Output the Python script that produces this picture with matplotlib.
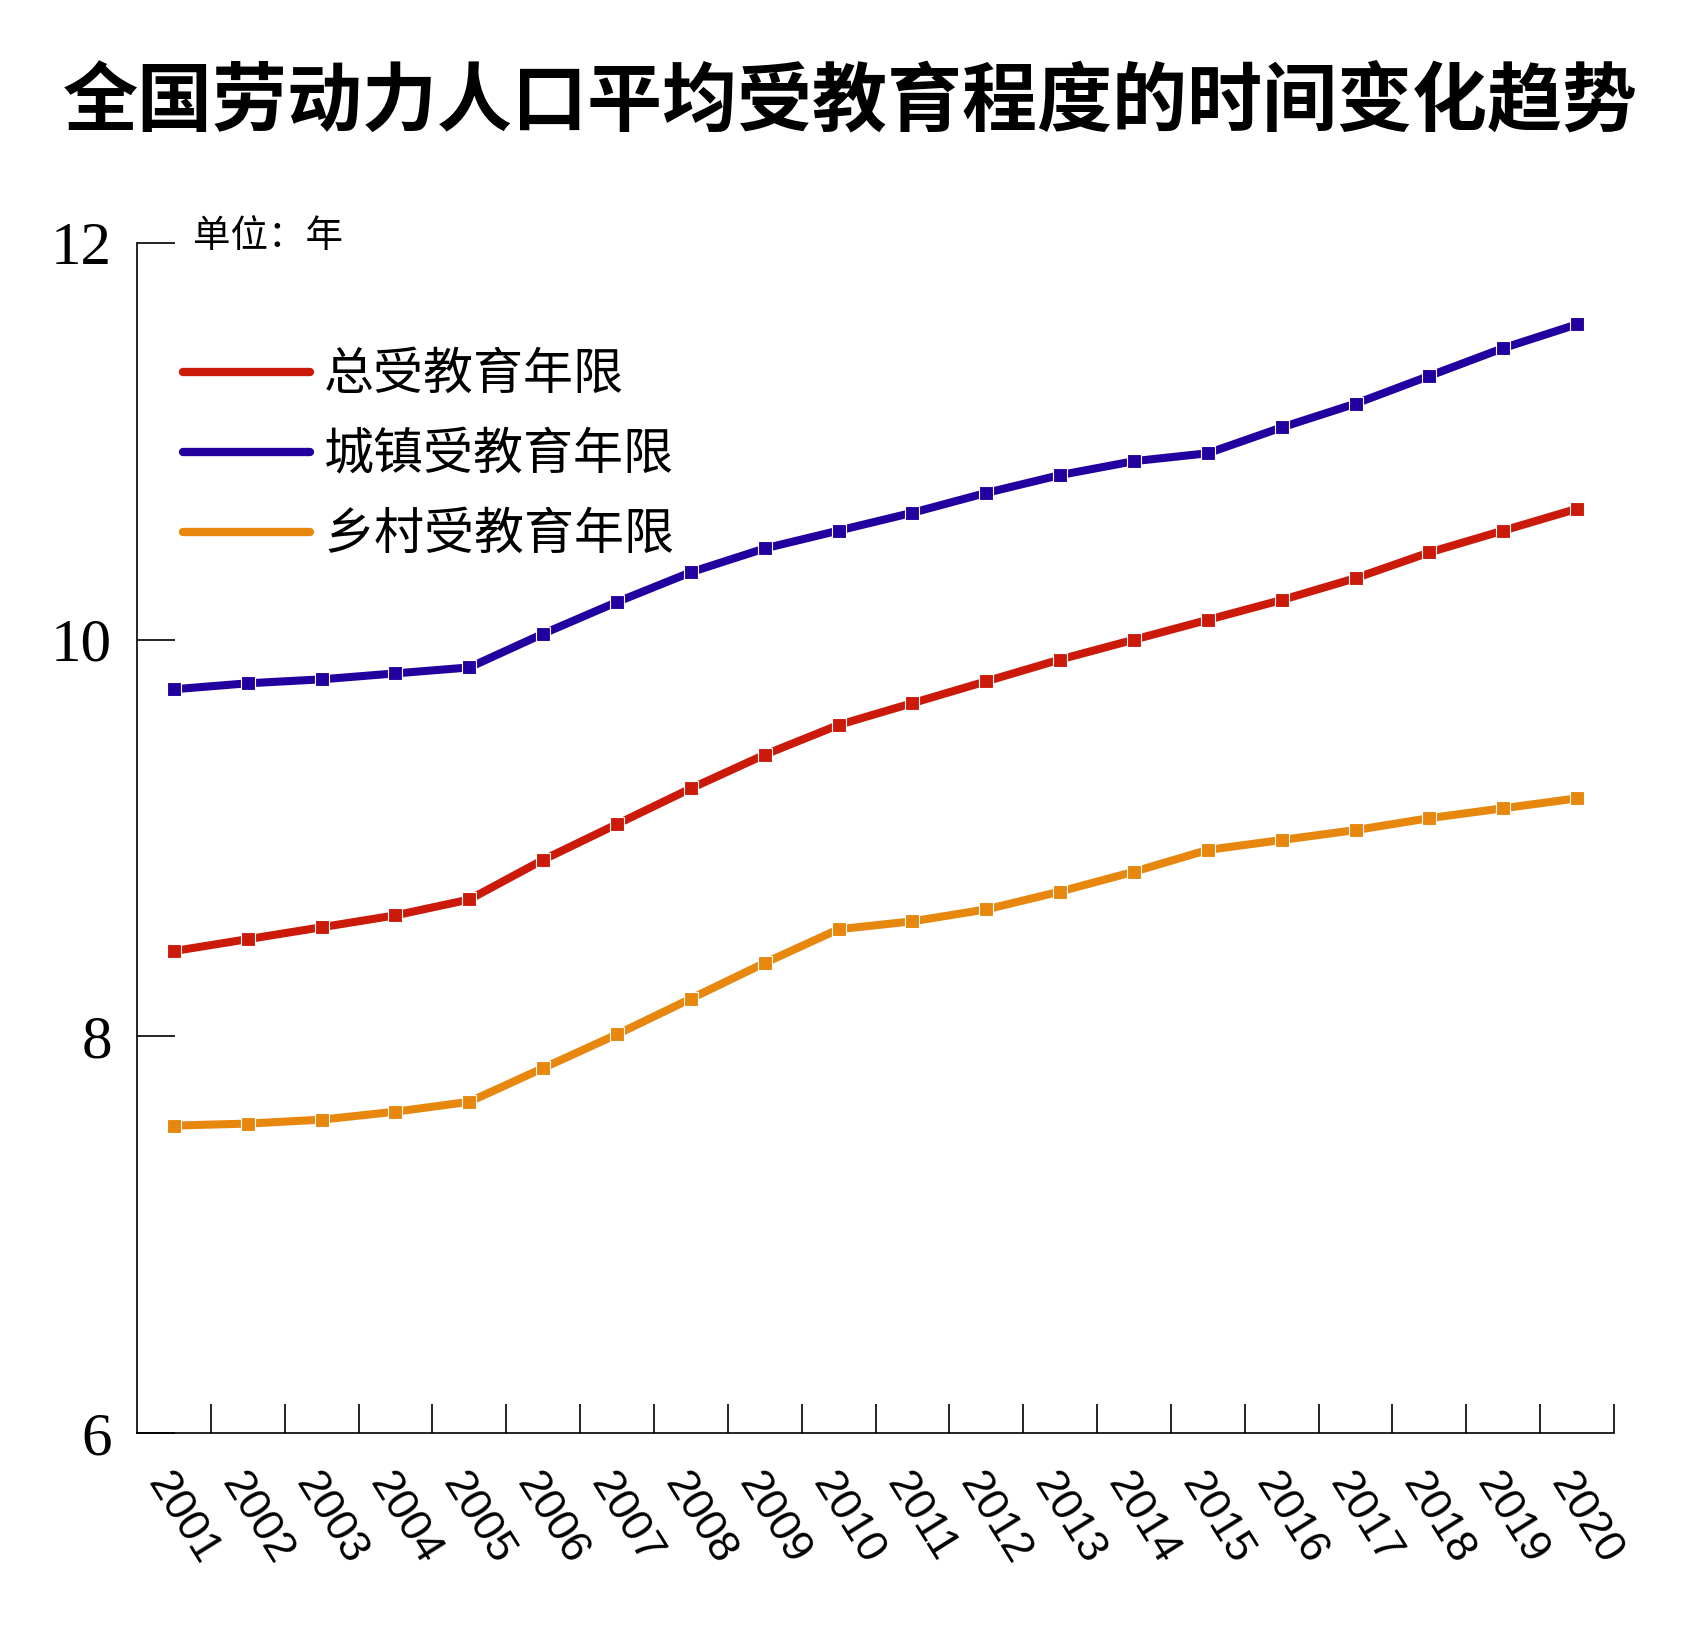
import matplotlib
matplotlib.use('Agg')
import matplotlib.pyplot as plt
from matplotlib.lines import Line2D
import numpy as np

plt.rcParams['font.family'] = ['Noto Sans CJK SC', 'DejaVu Sans']

years = [str(y) for y in range(2001, 2021)]
total = [8.43, 8.49, 8.55, 8.61, 8.69, 8.89, 9.07, 9.25, 9.42, 9.57,
         9.68, 9.79, 9.90, 10.00, 10.10, 10.20, 10.31, 10.44, 10.55, 10.66]
urban = [9.75, 9.78, 9.80, 9.83, 9.86, 10.03, 10.19, 10.34, 10.46, 10.55,
         10.64, 10.74, 10.83, 10.90, 10.94, 11.07, 11.19, 11.33, 11.47, 11.59]
rural = [7.55, 7.56, 7.58, 7.62, 7.67, 7.84, 8.01, 8.19, 8.37, 8.54,
         8.58, 8.64, 8.73, 8.83, 8.94, 8.99, 9.04, 9.10, 9.15, 9.20]
labels = ['总受教育年限', '城镇受教育年限', '乡村受教育年限']
colors = ['#cc1a0a', '#2200a0', '#e8870d']

W, H = 1700, 1648
fig = plt.figure(figsize=(W / 100, H / 100), dpi=100)
ax = fig.add_axes([137 / W, 1 - 1433 / H, (1614 - 137) / W, (1433 - 243) / H])

x = np.arange(len(years)) + 0.5
for vals, c in zip([total, urban, rural], colors):
    ax.plot(x, vals, color=c, lw=5.8, marker='s', ms=10, mec='white', mew=0.8,
            clip_on=False)

ax.set_xlim(0, 20)
ax.set_ylim(6, 12)

# ticks on year boundaries, labels in the middle
ax.set_xticks(np.arange(1, 21))
ax.set_xticklabels([])
ax.set_xticks(x, minor=True)
ax.set_xticklabels(years, minor=True, rotation=-58, ha='left', va='top',
                   rotation_mode='anchor', fontfamily='Liberation Sans', fontsize=32)
ax.tick_params(axis='x', which='major', direction='in', length=21, width=1.2)
ax.tick_params(axis='x', which='minor', length=0, pad=24)

ax.set_yticks([6, 8, 10, 12])
ax.set_yticklabels(['6', '8', '10', '12'], fontfamily='Liberation Serif', fontsize=44)
ax.tick_params(axis='y', direction='in', length=27, width=1.2, pad=18)

for s in ['top', 'right']:
    ax.spines[s].set_visible(False)
for s in ['left', 'bottom']:
    ax.spines[s].set_linewidth(1.2)

handles = [Line2D([], [], color=c, lw=6, solid_capstyle='round') for c in colors]
fig.legend(handles, labels, loc='upper left', bbox_to_anchor=(183 / W, 1 - 349 / H),
           frameon=False, fontsize=36, handlelength=2.54, handletextpad=0.28,
           labelspacing=0.56, borderpad=0, borderaxespad=0)

fig.text(193 / W, 1 - 237 / H, '单位：年', fontsize=27, ha='left', va='center')
fig.text(0.5, 1 - 103 / H, '全国劳动力人口平均受教育程度的时间变化趋势',
         fontsize=54, fontweight='heavy', ha='center', va='center')

fig.savefig('out.png', dpi=100)
